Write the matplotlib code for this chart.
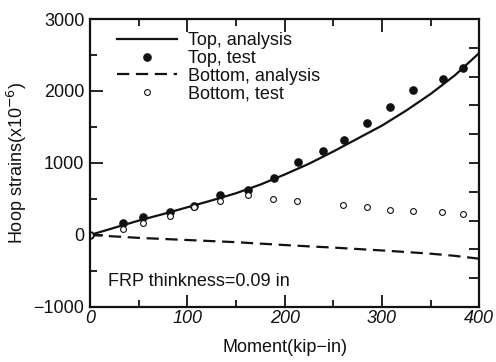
import numpy as np
import matplotlib
matplotlib.use('Agg')
import matplotlib.pyplot as plt
from matplotlib.ticker import MultipleLocator

plt.rcParams['font.family'] = ['Liberation Sans', 'DejaVu Sans']

#--data--#
m_line = [0, 25, 50, 75, 100, 125, 150, 175, 200, 225, 250, 275, 300, 325, 350, 375, 400]
top_analysis = [0, 100, 200, 290, 385, 480, 580, 700, 840, 990, 1160, 1340, 1520, 1730, 1960, 2220, 2530]
bot_analysis = [0, -20, -40, -55, -70, -85, -100, -120, -140, -158, -175, -195, -215, -237, -260, -290, -330]

m_top_test = [0, 34, 54, 82, 107, 134, 162, 189, 214, 239, 261, 285, 308, 332, 363, 383]
top_test = [0, 171, 254, 319, 403, 556, 625, 788, 1018, 1171, 1319, 1560, 1773, 2010, 2162, 2324]

m_bot_test = [0, 34, 54, 82, 107, 134, 162, 188, 213, 260, 285, 308, 332, 362, 383]
bot_test = [0, 88, 171, 264, 390, 476, 551, 504, 476, 413, 385, 347, 329, 315, 292]

FS = 13
INK = '#111111'

#--figure--#
fig = plt.figure(figsize=(4.96, 3.62), dpi=100)
ax = fig.add_axes([0.1815, 0.152, 0.785, 0.7955])

ax.plot(m_line, top_analysis, color=INK, lw=1.6, label='Top, analysis')
ax.plot(m_top_test, top_test, linestyle='none', marker='o', ms=5.2,
        color=INK, label='Top, test')
ax.plot(m_line, bot_analysis, color=INK, lw=1.6, dashes=(5.5, 3.0),
        label='Bottom, analysis')
ax.plot(m_bot_test, bot_test, linestyle='none', marker='o', ms=4.2,
        mfc='white', mec=INK, mew=0.8, label='Bottom, test')

ax.set_xlim(0, 400)
ax.set_ylim(-1000, 3000)
ax.xaxis.set_major_locator(MultipleLocator(100))
ax.xaxis.set_minor_locator(MultipleLocator(50))
ax.yaxis.set_major_locator(MultipleLocator(1000))
ax.yaxis.set_minor_locator(MultipleLocator(500))

ax.tick_params(which='both', direction='in', top=True, right=False,
               width=1.3, colors=INK, labelsize=FS)
ax.tick_params(which='major', length=9, pad=4)
ax.tick_params(axis='x', which='major', pad=2)
ax.tick_params(which='minor', length=5)
for lab in ax.get_xticklabels():
    lab.set_fontstyle('italic')
for s in ax.spines.values():
    s.set_linewidth(1.6)
    s.set_color(INK)

#--right side ticks (unlabelled)--#
ax2 = ax.twinx()
ax2.set_ylim(-1000, 3000)
ax2.set_yticks(np.arange(-1000, 3001, 400))
ax2.tick_params(direction='in', length=7, width=1.3, labelright=False, colors=INK)
for s in ax2.spines.values():
    s.set_visible(False)

ax.set_xlabel('Moment(kip\u2212in)', fontsize=FS, color=INK, labelpad=9)
ax.set_ylabel('Hoop strains(x10$^{-6}$)', fontsize=FS, color=INK, labelpad=3)

ax.text(0.046, 0.09, 'FRP thinkness=0.09 in', transform=ax.transAxes,
        fontsize=FS, color=INK, va='center', ha='left')

ax.legend(loc='upper left', bbox_to_anchor=(0.07, 0.955), frameon=False,
          fontsize=FS, borderpad=0, borderaxespad=0, labelspacing=0.05,
          handlelength=3.3, handletextpad=0.6, labelcolor=INK)

fig.savefig('out.png', dpi=100)
